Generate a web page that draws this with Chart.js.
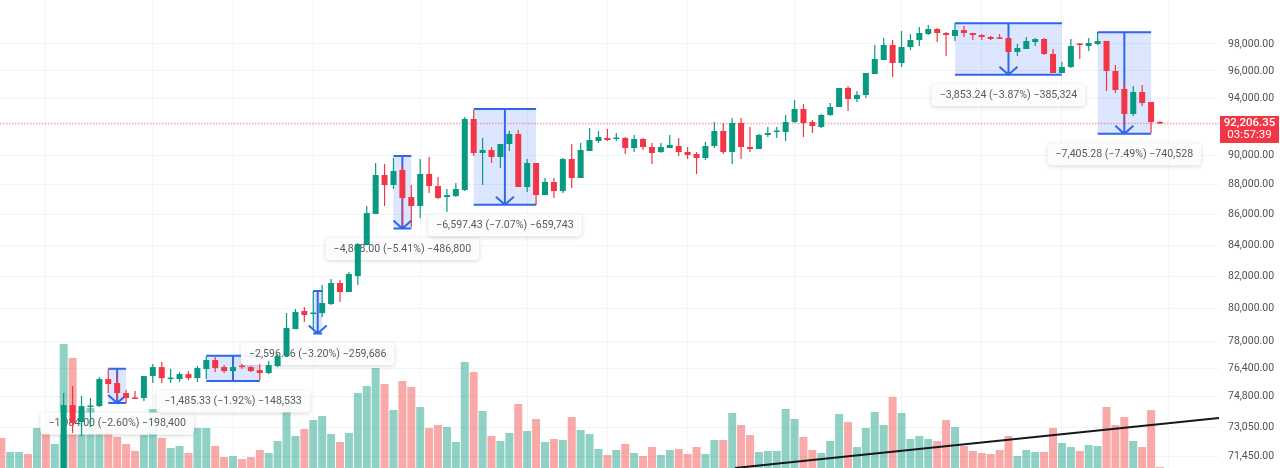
<!DOCTYPE html>
<html>
<head>
<meta charset="utf-8">
<title>BTC chart</title>
<style>
	html, body { margin: 0; padding: 0; background: #fff; overflow: hidden; }
	canvas { display: block; filter: blur(0.35px); }
</style>
<script src="https://cdn.jsdelivr.net/npm/chart.js@4/dist/chart.umd.min.js"></script>
</head>
<body>
<canvas id="chart" width="1280" height="468"></canvas>
<script>
	var firstCandle = 7;
	var opens = [70000, 74297, 73335, 74183, 74240, 75793, 75562, 74985, 74697, 74697, 75968, 76494, 75793, 75793, 76085, 75852, 76377, 76906, 76494, 76260, 76553, 76494, 76318, 76143, 76553, 77143, 78756, 79852, 79669, 79730, 80282, 81586, 81024, 82024, 83998, 86019, 88632, 87955, 88972, 87148, 86549, 88700, 87887, 87148, 87215, 87617, 92521, 90140, 90347, 89864, 90765, 91464, 87820, 89452, 87282, 88157, 87550, 89726, 88428, 90278, 90973, 91184, 91113, 91184, 90486, 91113, 90556, 90209, 90486, 90625, 90209, 90071, 89795, 90625, 91674, 90209, 92238, 90556, 90417, 91394, 91604, 91604, 92309, 93234, 92309, 91956, 92806, 93377, 94748, 93951, 94241, 95770, 96804, 97925, 96582, 97775, 98300, 98754, 99133, 98830, 98603, 99057, 98830, 98678, 98527, 98451, 98451, 97400, 97624, 98150, 98376, 97251, 95844, 96286, 98000, 97850, 98000, 98225, 95991, 94675, 92877, 94458, 93736, 92309];
	var highs = [74985, 75388, 74812, 74697, 75910, 76377, 76143, 75157, 75100, 75968, 76671, 76788, 76377, 76201, 76260, 76553, 77143, 77084, 76612, 76729, 76671, 76553, 76671, 76847, 77261, 79730, 79974, 80096, 81086, 81460, 81836, 81773, 82276, 84127, 86549, 89452, 89383, 89795, 89315, 87955, 89726, 89864, 88496, 87685, 88090, 92664, 93162, 91184, 90556, 90765, 91674, 91744, 89726, 89452, 88428, 88428, 89795, 90765, 90834, 91885, 91674, 91815, 91534, 91254, 91394, 91184, 90834, 90834, 91394, 91184, 90556, 90209, 90904, 92309, 92238, 92593, 92593, 91956, 91464, 91956, 91956, 92806, 93879, 93592, 92450, 92877, 93664, 94748, 94893, 94530, 95844, 97925, 98451, 98300, 98981, 98754, 99285, 99440, 99210, 98905, 99590, 99360, 98830, 98754, 98603, 98754, 98451, 98000, 98527, 98451, 98451, 97624, 96656, 98376, 98075, 98451, 98905, 98225, 96434, 95184, 94893, 94966, 93736, 92379];
	var lows = [69500, 72719, 72552, 73054, 74183, 74985, 74582, 74411, 74640, 74525, 75562, 75562, 75562, 75620, 75735, 75620, 75793, 76201, 76143, 76143, 76377, 76201, 75735, 76085, 76494, 77084, 78756, 79181, 78696, 79485, 80221, 80405, 81024, 81460, 83998, 86019, 86549, 87685, 85166, 85166, 85756, 87416, 87015, 86150, 87148, 87550, 89933, 87955, 89452, 89109, 90278, 87820, 87483, 86615, 87282, 87081, 87416, 87752, 88428, 90278, 90834, 90973, 90973, 90071, 90209, 90347, 89383, 90140, 90486, 89933, 89726, 88700, 89657, 90486, 90071, 89383, 89726, 90209, 90417, 91254, 91184, 90973, 92238, 91254, 91534, 91885, 92735, 93377, 93091, 93736, 94024, 95770, 96804, 95550, 96286, 97549, 97850, 98678, 98150, 97102, 98225, 98527, 98300, 98300, 98300, 98376, 97326, 97102, 97624, 97850, 97177, 95844, 95844, 96212, 96879, 97475, 97925, 94530, 94385, 92097, 92735, 93449, 91534, 92167];
	var closes = [74297, 73279, 74240, 74240, 75793, 75504, 74985, 74697, 74650, 75968, 76494, 75852, 75852, 76085, 75852, 76436, 76906, 76436, 76260, 76494, 76494, 76260, 76143, 76612, 77143, 78817, 79791, 79608, 79730, 80344, 81586, 81024, 82150, 84063, 86085, 88632, 87955, 88904, 87081, 86549, 88700, 87887, 87081, 87282, 87685, 92521, 90140, 90347, 89864, 90765, 91464, 87820, 89452, 87282, 88157, 87550, 89726, 88428, 90347, 91043, 91254, 91043, 91184, 90486, 91113, 90556, 90140, 90556, 90695, 90209, 90002, 89795, 90625, 91674, 90209, 92238, 90556, 90417, 91394, 91534, 91674, 92309, 93234, 92238, 92026, 92806, 93377, 94748, 93951, 94241, 95844, 96879, 97925, 96582, 97775, 98300, 98830, 99133, 98830, 98678, 99057, 98830, 98678, 98527, 98376, 98390, 97400, 97700, 98225, 98376, 97251, 95844, 96286, 97850, 97925, 98075, 98225, 95991, 94602, 92877, 94458, 93664, 92309, 92206.35];

	// no axis for volume in the picture, so the units are arbitrary
	var volumes = [300, 160, 160, 140, 400, 360, 240, 1240, 1100, 570, 600, 530, 390, 310, 240, 170, 330, 590, 300, 200, 220, 150, 400, 400, 220, 110, 120, 90, 110, 180, 150, 270, 650, 320, 390, 480, 520, 340, 260, 350, 750, 820, 1000, 840, 580, 870, 810, 610, 400, 430, 410, 260, 1060, 960, 570, 320, 270, 350, 640, 370, 490, 260, 290, 280, 510, 380, 340, 190, 130, 180, 240, 150, 120, 210, 130, 180, 190, 140, 210, 140, 280, 280, 550, 430, 330, 160, 170, 170, 590, 490, 310, 180, 150, 270, 540, 460, 210, 400, 560, 430, 710, 550, 290, 320, 290, 270, 480, 410, 220, 170, 150, 140, 180, 320, 120, 180, 160, 160, 400, 250, 210, 170, 230, 220, 610, 430, 510, 270, 210, 580, 10];
	var earlyVolumeUp = [false, true, true, false, true, false, true];

	var priceTicks = [98000, 96000, 94000, 90000, 88000, 86000, 84000, 82000, 80000, 78000, 76400, 74800, 73050, 71450];
	var gridIndices = [5, 17, 26, 35, 47, 59, 68, 77, 89, 101, 110, 119, 131];

	var measureStarts = [12, 23, 35, 44, 53, 107, 123];
	var measureEnds = [14, 29, 36, 46, 60, 119, 129];
	var measureHighs = [76395, 77163, 81086, 89933, 93234, 99567, 98882];
	var measureLows = [74411, 75678, 78489, 85065, 86637, 95714, 91477];
	var measureLabels = [
		"\u22121,984.00 (\u22122.60%) \u2212198,400",
		"\u22121,485.33 (\u22121.92%) \u2212148,533",
		"\u22122,596.86 (\u22123.20%) \u2212259,686",
		"\u22124,868.00 (\u22125.41%) \u2212486,800",
		"\u22126,597.43 (\u22127.07%) \u2212659,743",
		"\u22123,853.24 (\u22123.87%) \u2212385,324",
		"\u22127,405.28 (\u22127.49%) \u2212740,528"
	];

	var trendIndices = [82.3, 136.62];
	var trendPrices = [70797, 73560];
	var lastPrice = 92206.35;
	var countdown = "03:57:39";

	var green = "#089981";
	var red = "#f23645";
	var greenVolume = "rgba(8,153,129,0.45)";
	var redVolume = "rgba(240,50,45,0.42)";
	var gridColor = "#f3f4f6";
	var blue = "#2f66ee";
	var labelFont = "10.6px Roboto";
	var xMin = -0.146;
	var xMax = 136.62;

	function money(v) {
		return v.toLocaleString("en-US", { minimumFractionDigits: 2, maximumFractionDigits: 2 });
	}

	var candleUp = [];
	var bodies = [];
	var wicks = [];
	for (var i = 0; i < opens.length; i++) {
		candleUp[i] = closes[i] >= opens[i];
		bodies.push({ x: firstCandle + i, y: [opens[i], closes[i]] });
		wicks.push({ x: firstCandle + i, y: [lows[i], highs[i]] });
	}

	var candleColors = candleUp.map(function (up) { return up ? green : red; });
	var volumePoints = volumes.map(function (v, idx) { return { x: idx, y: v }; });
	var volumeColors = volumes.map(function (v, idx) {
		var up = idx < firstCandle ? earlyVolumeUp[idx] : candleUp[idx - firstCandle];
		return up ? greenVolume : redVolume;
	});

	function noPadding(axis) {
		axis.paddingLeft = 0;
		axis.paddingRight = 0;
		axis.paddingTop = 0;
		axis.paddingBottom = 0;
	}

	function drawMeasure(ctx, x, y, m) {
		var left = x.getPixelForValue(measureStarts[m]);
		var right = x.getPixelForValue(measureEnds[m]);
		var top = y.getPixelForValue(measureHighs[m]);
		var bottom = y.getPixelForValue(measureLows[m]);
		var mid = (left + right) / 2;

		ctx.fillStyle = "rgba(41,98,255,0.16)";
		ctx.fillRect(left, top, right - left, bottom - top);

		ctx.strokeStyle = blue;
		ctx.lineWidth = 2;
		ctx.beginPath();
		ctx.moveTo(left, top);
		ctx.lineTo(right, top);
		ctx.moveTo(left, bottom);
		ctx.lineTo(right, bottom);
		ctx.moveTo(mid, top);
		ctx.lineTo(mid, bottom);
		if (bottom - top > 30) {
			ctx.moveTo(mid - 9, bottom - 8);
			ctx.lineTo(mid, bottom);
			ctx.lineTo(mid + 9, bottom - 8);
		}
		ctx.stroke();

		// label sits just under the box
		ctx.font = labelFont;
		var w = ctx.measureText(measureLabels[m]).width + 16;
		ctx.save();
		ctx.shadowColor = "rgba(0,0,0,0.18)";
		ctx.shadowBlur = 4;
		ctx.shadowOffsetY = 1;
		ctx.fillStyle = "rgba(255,255,255,0.92)";
		ctx.beginPath();
		ctx.roundRect(mid - w / 2, bottom + 9.5, w, 22, 4);
		ctx.fill();
		ctx.restore();
		ctx.fillStyle = "#555a63";
		ctx.textAlign = "center";
		ctx.textBaseline = "middle";
		ctx.fillText(measureLabels[m], mid, bottom + 20.5);
	}

	var measurePlugin = {
		id: "measures",
		beforeDatasetDraw: function (chart, args) {
			if (args.index !== 2) {
				return;
			}
			var ctx = chart.ctx;
			ctx.save();
			for (var m = 0; m < measureLabels.length; m++) {
				drawMeasure(ctx, chart.scales.x, chart.scales.y, m);
			}
			ctx.restore();
		}
	};

	var priceTagPlugin = {
		id: "priceTag",
		afterDraw: function (chart) {
			var ctx = chart.ctx;
			var py = chart.scales.y.getPixelForValue(lastPrice);
			var left = chart.chartArea.right + 1;
			var right = 1279;
			ctx.save();
			ctx.fillStyle = red;
			ctx.fillRect(left, py - 7.5, right - left, 27);
			ctx.fillStyle = "#fff";
			ctx.textAlign = "center";
			ctx.textBaseline = "middle";
			ctx.font = "500 11.5px Roboto";
			ctx.fillText(money(lastPrice), (left + right) / 2, py);
			ctx.font = "11.5px Roboto";
			ctx.fillText(countdown, (left + right) / 2, py + 12);
			ctx.restore();
		}
	};

	new Chart(document.getElementById("chart"), {
		type: "bar",
		data: {
			datasets: [
				{ label: "Body", data: bodies, order: 1, xAxisID: "x", yAxisID: "y", grouped: false, barThickness: 6, minBarLength: 1.5, backgroundColor: candleColors, borderWidth: 0, inflateAmount: 0 },
				{ label: "Wick", data: wicks, order: 2, xAxisID: "x", yAxisID: "y", grouped: false, barThickness: 1.2, backgroundColor: candleColors, borderWidth: 0, inflateAmount: 0 },
				{ label: "Last price", type: "line", data: [{ x: xMin, y: lastPrice }, { x: xMax, y: lastPrice }], order: 3, xAxisID: "x", yAxisID: "y", borderColor: "rgba(242,54,69,0.45)", borderWidth: 1.5, borderDash: [1.5, 1.5], pointRadius: 0 },
				{ label: "Trend", type: "line", data: [{ x: trendIndices[0], y: trendPrices[0] }, { x: trendIndices[1], y: trendPrices[1] }], order: 4, xAxisID: "x", yAxisID: "y", borderColor: "#16181d", borderWidth: 2, pointRadius: 0 },
				{ label: "Volume", data: volumePoints, order: 5, xAxisID: "x", yAxisID: "volume", grouped: false, barThickness: 8, backgroundColor: volumeColors, borderWidth: 0, inflateAmount: 0 }
			]
		},
		plugins: [measurePlugin, priceTagPlugin],
		options: {
			responsive: false,
			animation: false,
			layout: { padding: 0, autoPadding: false },
			plugins: { legend: { display: false }, tooltip: { enabled: false }, title: { display: false } },
			scales: {
				x: {
					type: "linear",
					bounds: "data",
					offset: false,
					min: xMin,
					max: xMax,
					border: { display: false },
					grid: { color: gridColor, drawTicks: false, offset: false },
					ticks: { display: false },
					afterBuildTicks: function (axis) {
						axis.ticks = gridIndices.map(function (v) { return { value: v }; });
					},
					afterFit: function (axis) {
						axis.height = 0;
						noPadding(axis);
					}
				},
				y: {
					type: "logarithmic",
					position: "right",
					bounds: "data",
					min: 70797,
					max: 101363,
					border: { display: false },
					grid: { color: gridColor, drawTicks: false },
					ticks: {
						autoSkip: false,
						padding: 9,
						color: "#4d5058",
						font: { family: "Roboto", size: 10.5 },
						callback: function (v) { return money(v); }
					},
					afterBuildTicks: function (axis) {
						axis.ticks = priceTicks.map(function (v) { return { value: v }; });
					},
					afterFit: function (axis) {
						axis.width = 61;
						noPadding(axis);
					}
				},
				volume: {
					type: "linear",
					display: false,
					min: 0,
					max: 4680
				}
			}
		}
	});
</script>
</body>
</html>
